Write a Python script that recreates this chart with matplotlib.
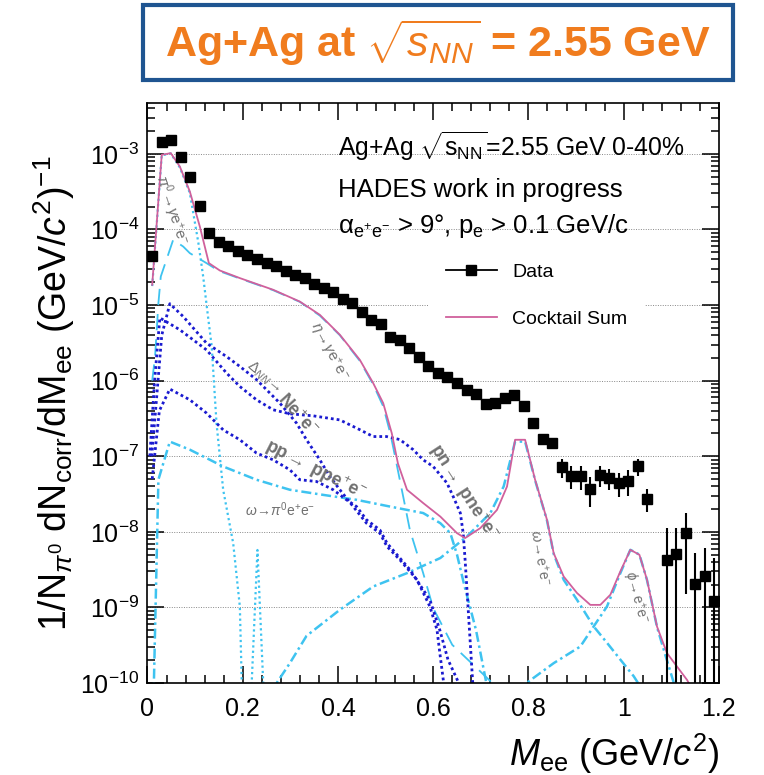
import matplotlib
matplotlib.use("Agg")
import matplotlib.pyplot as plt
from matplotlib.lines import Line2D
from matplotlib.patches import Rectangle
from matplotlib.ticker import LogLocator, MultipleLocator, NullFormatter
import numpy as np

plt.rcParams['font.family'] = ['Liberation Sans', 'DejaVu Sans']
plt.rcParams['mathtext.fontset'] = 'custom'
plt.rcParams['mathtext.rm'] = 'Liberation Sans'
plt.rcParams['mathtext.it'] = 'Liberation Sans:italic'
plt.rcParams['mathtext.bf'] = 'Liberation Sans:bold'

# measured data points (bin centres, GeV/c^2)
data_x = [0.01, 0.03, 0.05, 0.07, 0.09, 0.11, 0.13, 0.15, 0.17, 0.19,
          0.21, 0.23, 0.25, 0.27, 0.29, 0.31, 0.33, 0.35, 0.37, 0.39,
          0.41, 0.43, 0.45, 0.47, 0.49, 0.51, 0.53, 0.55, 0.57, 0.59,
          0.61, 0.63, 0.65, 0.67, 0.69, 0.71, 0.73, 0.75, 0.77, 0.79,
          0.81, 0.83, 0.85, 0.87, 0.89, 0.91, 0.93, 0.95, 0.97, 0.99,
          1.01, 1.03, 1.05, 1.09, 1.11, 1.13, 1.15, 1.17, 1.19]
data_y = [4.4e-5, 1.44e-3, 1.50e-3, 9.0e-4, 4.86e-4, 2.01e-4, 9.1e-5, 6.9e-5, 6.1e-5, 5.26e-5,
          4.61e-5, 4.05e-5, 3.58e-5, 3.30e-5, 2.86e-5, 2.51e-5, 2.31e-5, 1.91e-5, 1.67e-5, 1.48e-5,
          1.21e-5, 1.06e-5, 8.2e-6, 6.24e-6, 5.64e-6, 3.83e-6, 3.47e-6, 2.69e-6, 2.08e-6, 1.58e-6,
          1.26e-6, 1.11e-6, 9.27e-7, 7.56e-7, 6.62e-7, 4.93e-7, 5.04e-7, 5.87e-7, 6.36e-7, 4.65e-7,
          2.79e-7, 1.70e-7, 1.49e-7, 7.17e-8, 5.51e-8, 5.51e-8, 3.71e-8, 5.68e-8, 5.13e-8, 4.41e-8,
          4.77e-8, 7.31e-8, 2.74e-8, 4.27e-9, 5.07e-9, 9.6e-9, 2.05e-9, 2.62e-9, 1.20e-9]
data_err = [0, 0, 0, 0, 0, 0, 0, 0, 0, 0,
            0, 0, 0, 0, 0, 0, 0, 0, 0, 0,
            0, 0, 0, 0, 0, 0, 0, 0, 0, 0,
            0, 0, 0, 0, 0, 0, 0, 0, 0, 0,
            1.2e-8, 2.2e-8, 2.4e-8, 2.0e-8, 1.8e-8, 1.95e-8, 1.57e-8, 1.78e-8, 1.6e-8, 1.56e-8,
            1.8e-8, 1.85e-8, 0.93e-8, 6.9e-9, 6.1e-9, 8.1e-9, 3.2e-9, 3.5e-9, 3.3e-9]

# cocktail sum
sum_x = [0.010, 0.030, 0.049, 0.068, 0.089, 0.110, 0.129, 0.152, 0.194, 0.264,
         0.320, 0.362, 0.404, 0.446, 0.474, 0.495, 0.513, 0.526, 0.545, 0.579,
         0.615, 0.650, 0.667, 0.699, 0.734, 0.755, 0.772, 0.793, 0.814, 0.839,
         0.853, 0.874, 0.902, 0.930, 0.951, 0.972, 0.993, 1.014, 1.033, 1.049,
         1.070, 1.091, 1.112, 1.133, 1.15]
sum_y = [1.85e-5, 9.7e-4, 1.02e-3, 6.79e-4, 3.17e-4, 1.09e-4, 3.58e-5, 2.86e-5, 2.27e-5, 1.59e-5,
         1.11e-5, 7.41e-6, 4.04e-6, 1.88e-6, 9.27e-7, 5.04e-7, 2.02e-7, 8.0e-8, 3.60e-8, 2.40e-8,
         1.59e-8, 9.6e-9, 8.26e-9, 1.12e-8, 1.95e-8, 3.97e-8, 1.65e-7, 1.65e-7, 4.88e-8, 1.44e-8,
         5.22e-9, 2.56e-9, 1.55e-9, 1.08e-9, 1.08e-9, 1.47e-9, 2.99e-9, 5.78e-9, 4.97e-9, 2.32e-9,
         5.58e-10, 2.48e-10, 1.65e-10, 1.10e-10, 7e-11]

# pi0 Dalitz
pi0_x = [0.010, 0.030, 0.049, 0.068, 0.089, 0.107, 0.117, 0.128, 0.135, 0.145,
         0.159, 0.180, 0.194, 0.202, 0.212, 0.231, 0.250]
pi0_y = [1.78e-5, 9.55e-4, 1.01e-3, 6.6e-4, 3.03e-4, 6.59e-5, 2.38e-5, 6.37e-6, 2.82e-6, 2.74e-7,
         3.60e-8, 7.08e-9, 1.03e-9, 1e-11, 1e-11, 5.75e-9, 1e-11]

# eta Dalitz
eta_x = [0.010, 0.016, 0.023, 0.028, 0.054, 0.075, 0.089, 0.124, 0.150, 0.194,
         0.264, 0.320, 0.362, 0.404, 0.446, 0.474, 0.495, 0.510, 0.520, 0.537,
         0.551, 0.579, 0.600, 0.640, 0.700, 0.740]
eta_y = [1e-6, 2.09e-6, 1.06e-5, 2.38e-5, 7.28e-5, 5.94e-5, 4.85e-5, 3.58e-5, 2.82e-5, 2.24e-5,
         1.57e-5, 1.10e-5, 7.24e-6, 3.98e-6, 1.82e-6, 8.9e-7, 4.57e-7, 2.0e-7, 9.9e-8, 2.93e-8,
         1.06e-8, 2.84e-9, 9.8e-10, 3.2e-10, 1.4e-10, 8e-11]

# Delta -> N e+e-
dlt_x = [0.009, 0.016, 0.030, 0.047, 0.075, 0.124, 0.166, 0.194, 0.229, 0.278,
         0.313, 0.334, 0.362, 0.383, 0.404, 0.432, 0.460, 0.488, 0.503, 0.530,
         0.566, 0.593, 0.608, 0.614, 0.624]
dlt_y = [1e-7, 3.35e-7, 3.98e-6, 1.04e-5, 7.05e-6, 3.13e-6, 2.08e-6, 1.54e-6, 1.03e-6, 5.04e-7,
         2.74e-7, 1.65e-7, 8.95e-8, 5.38e-8, 3.60e-8, 2.16e-8, 1.30e-8, 9.6e-9, 6.4e-9, 4.27e-9,
         2.32e-9, 1.03e-9, 5.06e-10, 2.48e-10, 8e-11]

# pn bremsstrahlung
pn_x = [0.005, 0.015, 0.026, 0.068, 0.124, 0.166, 0.194, 0.229, 0.264, 0.299,
        0.348, 0.404, 0.446, 0.474, 0.502, 0.530, 0.558, 0.579, 0.600, 0.629,
        0.642, 0.657, 0.663, 0.667, 0.674, 0.684]
pn_y = [1e-7, 1e-6, 6.76e-6, 4.7e-6, 2.55e-6, 1.26e-6, 8.36e-7, 5.57e-7, 4.11e-7, 3.64e-7,
        3.42e-7, 3.02e-7, 2.24e-7, 1.82e-7, 1.82e-7, 1.66e-7, 1.22e-7, 8.95e-8, 7.31e-8, 4.41e-8,
        2.93e-8, 1.77e-8, 9.6e-9, 4.27e-9, 8.4e-10, 8e-11]

# pp bremsstrahlung
pp_x = [0.010, 0.025, 0.047, 0.089, 0.124, 0.159, 0.194, 0.229, 0.264, 0.299,
        0.320, 0.355, 0.390, 0.418, 0.439, 0.460, 0.488, 0.503, 0.551, 0.593,
        0.614, 0.631, 0.657]
pp_y = [5e-8, 4e-7, 7.73e-7, 5.57e-7, 3.72e-7, 2.23e-7, 1.65e-7, 1.10e-7, 8.95e-8, 6.61e-8,
        4.88e-8, 4.63e-8, 3.60e-8, 2.65e-8, 2.16e-8, 1.44e-8, 1.06e-8, 7.08e-9, 3.16e-9, 1.26e-9,
        5.0e-10, 2.04e-10, 9e-11]

# omega -> pi0 e+e-
omd_x = [0.010, 0.023, 0.047, 0.089, 0.159, 0.229, 0.299, 0.369, 0.439, 0.509,
         0.579, 0.615, 0.636, 0.650, 0.665, 0.690, 0.713]
omd_y = [1e-11, 4.9e-8, 1.56e-7, 1.22e-7, 7.31e-8, 4.88e-8, 3.60e-8, 3.08e-8, 2.65e-8, 2.16e-8,
         1.77e-8, 1.30e-8, 9.6e-9, 5e-9, 2e-9, 5e-10, 9e-11]

# omega -> e+e-
om_x = [0.255, 0.299, 0.334, 0.404, 0.474, 0.545, 0.615, 0.671, 0.720, 0.748,
        0.772, 0.793, 0.814, 0.839, 0.853, 0.874, 0.902, 0.937, 0.965, 0.993,
        1.021, 1.040]
om_y = [7e-11, 1.83e-10, 4.2e-10, 9.3e-10, 1.89e-9, 2.84e-9, 4.5e-9, 8.7e-9, 1.77e-8, 3.98e-8,
        1.56e-7, 1.56e-7, 4.8e-8, 1.41e-8, 5.1e-9, 2.32e-9, 1.26e-9, 5.6e-10, 3.4e-10, 2.04e-10,
        1.23e-10, 8e-11]

# phi -> e+e-
phi_x = [0.775, 0.853, 0.909, 0.937, 0.965, 0.993, 1.014, 1.033, 1.049, 1.070,
         1.087, 1.110]
phi_y = [8e-11, 1.83e-10, 3.04e-10, 5.6e-10, 1.03e-9, 2.84e-9, 5.78e-9, 5.0e-9, 2.3e-9, 5.5e-10,
         2.4e-10, 8e-11]

magenta = '#d0609c'
lblue = '#3ec3f0'
dblue = '#1a1ad0'
gray = '#707070'
dashdot = (0, (4, 1.5, 1, 1.5))

fig = plt.figure(figsize=(7.64, 7.75), dpi=100)
ax = fig.add_axes([0.193, 0.1187, 0.748, 0.7484])
ax.set_yscale('log')

ax.plot(pi0_x, pi0_y, color=lblue, ls=(0, (1, 1.4)), lw=1.6)
ax.plot(eta_x, eta_y, color=lblue, ls=(0, (9, 5)), lw=1.3)
ax.plot(omd_x, omd_y, color=lblue, ls=dashdot, lw=1.8)
ax.plot(om_x, om_y, color=lblue, ls=dashdot, lw=1.8)
ax.plot(phi_x, phi_y, color=lblue, ls=dashdot, lw=1.8)
ax.plot(dlt_x, dlt_y, color=dblue, ls=(0, (1, 1.1)), lw=2.0)
ax.plot(pn_x, pn_y, color=dblue, ls=(0, (1, 1.1)), lw=2.0)
ax.plot(pp_x, pp_y, color=dblue, ls=(0, (1, 1.1)), lw=2.0)
ax.plot(sum_x, sum_y, color=magenta, lw=1.3)

ax.errorbar(data_x, data_y, yerr=data_err, fmt='s', color='black', ms=6.5,
            elinewidth=1.5, capsize=0)

ax.set_xlim(0, 1.2)
ax.set_ylim(1e-10, 4.7e-3)

ax.yaxis.set_major_locator(LogLocator(base=10, numticks=20))
ax.yaxis.set_minor_locator(LogLocator(base=10, subs=np.arange(2, 10), numticks=20))
ax.yaxis.set_minor_formatter(NullFormatter())
ax.xaxis.set_major_locator(MultipleLocator(0.2))
ax.xaxis.set_minor_locator(MultipleLocator(0.04))
ax.xaxis.set_major_formatter(lambda v, p: '%g' % v)
ax.grid(True, axis='y', which='major', color='#888888', ls=(0, (1, 1.5)), lw=0.7)

ax.tick_params(which='both', direction='in', top=True, right=True, labelsize=18, width=1.1)
ax.tick_params(which='major', length=12)
ax.tick_params(which='minor', length=6)
ax.tick_params(axis='x', pad=10)
ax.tick_params(axis='y', pad=6)
for s in ax.spines.values():
    s.set_linewidth(1.2)

ax.set_xlabel(r'$M_{\rm ee}$ (GeV/$c^2$)', fontsize=26, loc='right', labelpad=8)
ax.set_ylabel(r'1/N$_{\pi^0}$ dN$_{\rm corr}$/dM$_{\rm ee}$ (GeV/$c^2$)$^{-1}$',
              fontsize=27, labelpad=2)

# process labels
ax.text(0.05, 10**-3.74, r'$\pi^0\!\rightarrow\!\gamma$e$^{+}$e$^{-}$', color=gray, fontsize=11,
        rotation=-72, ha='center', va='center')
ax.text(0.379, 10**-5.62, r'$\eta\!\rightarrow\!\gamma$e$^{+}$e$^{-}$', color=gray, fontsize=11,
        rotation=-62, ha='center', va='center')
ax.text(0.245, 10**-5.95, r'$\Delta_{NN}\!\rightarrow$', color=gray, fontsize=11,
        rotation=-40, ha='center', va='center')
ax.text(0.315, 10**-6.45, r'Ne$^{+}$e$^{-}$', color=gray, fontsize=13, fontweight='bold',
        rotation=-48, ha='center', va='center')
ax.text(0.352, 10**-7.18, r'pp$\rightarrow$ ppe$^{+}$e$^{-}$', color=gray, fontsize=13,
        fontweight='bold', rotation=-27, ha='center', va='center')
ax.text(0.663, 10**-7.47, r'pn$\rightarrow$ pne$^{+}$e$^{-}$', color=gray, fontsize=13,
        fontweight='bold', rotation=-57, ha='center', va='center')
ax.text(0.278, 10**-7.71, r'$\omega\!\rightarrow\!\pi^0$e$^{+}$e$^{-}$', color=gray, fontsize=10,
        ha='center', va='center')
ax.text(0.825, 10**-8.34, r'$\omega\!\rightarrow$e$^{+}$e$^{-}$', color=gray, fontsize=10,
        rotation=-80, ha='center', va='center')
ax.text(1.024, 10**-8.86, r'$\phi\!\rightarrow$e$^{+}$e$^{-}$', color=gray, fontsize=10,
        rotation=-75, ha='center', va='center')

# header text inside the frame
ax.text(0.334, 0.908, r'Ag+Ag $\sqrt{\rm s_{NN}}$=2.55 GeV 0-40%', transform=ax.transAxes,
        fontsize=17.8, va='baseline')
ax.text(0.334, 0.838, 'HADES work in progress', transform=ax.transAxes,
        fontsize=18.5, va='baseline')
ax.text(0.334, 0.776, 'α$_{\\rm e^{+}e^{-}}$ > 9°, p$_{\\rm e}$ > 0.1 GeV/c',
        transform=ax.transAxes, fontsize=18.5, va='baseline')

handles = [Line2D([], [], color='black', marker='s', ms=6.5, lw=1.3),
           Line2D([], [], color=magenta, lw=1.3)]
leg = ax.legend(handles, ['Data', 'Cocktail Sum'], loc='upper left',
                bbox_to_anchor=(0.475, 0.77), fontsize=14, handlelength=2.6,
                labelspacing=1.5, frameon=True, fancybox=False, borderpad=0.9)
leg.get_frame().set_edgecolor('none')
leg.get_frame().set_facecolor('white')
leg.get_frame().set_alpha(1)

# title box at the top
fig.patches.append(Rectangle((0.187, 0.897), 0.772, 0.097, transform=fig.transFigure,
                             fill=False, edgecolor='#1f5591', lw=3))
fig.text(0.573, 0.945, r'Ag+Ag at $\sqrt{s_{NN}}$ = 2.55 GeV', color='#f07c1e',
         fontsize=31, fontweight='bold', ha='center', va='center')

fig.savefig('out.png', dpi=100)
